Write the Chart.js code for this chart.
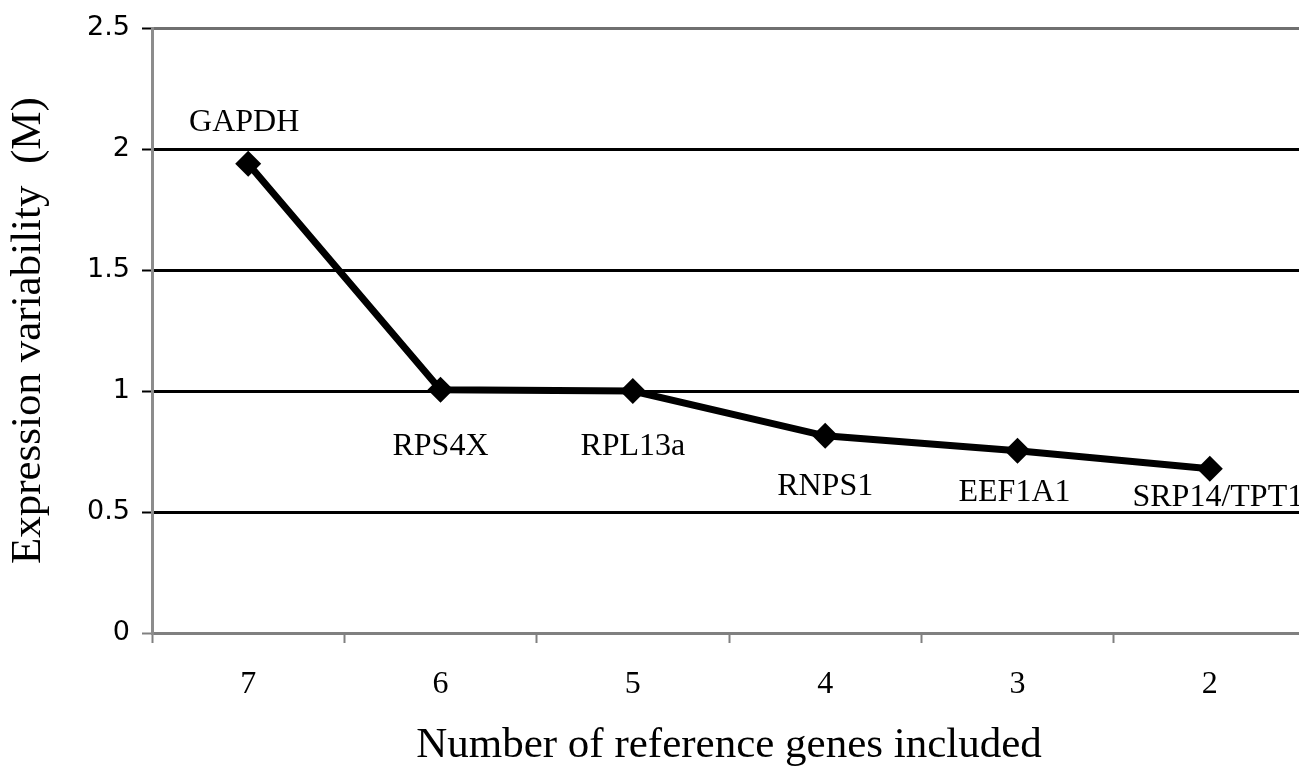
<!DOCTYPE html>
<html>
<head>
<meta charset="utf-8">
<title>Expression variability</title>
<script src="https://cdn.jsdelivr.net/npm/chart.js@4.4.1/dist/chart.umd.min.js"></script>
<style>
    html, body { margin: 0; padding: 0; background: #fff; overflow: hidden; }
    #wrap { width: 1319px; height: 768px; }
</style>
</head>
<body>
<div id="wrap"><canvas id="mChart" width="1319" height="768"></canvas></div>
<script>
// chart data
const geneCounts = ['7', '6', '5', '4', '3', '2'];
const mValues = [1.94, 1.005, 1.0, 0.815, 0.753, 0.679];
const geneNames = ['GAPDH', 'RPS4X', 'RPL13a', 'RNPS1', 'EEF1A1', 'SRP14/TPT1'];
const yTicks = [0, 0.5, 1, 1.5, 2, 2.5];

// where each gene label sits relative to its point (px)
const labelOffsets = [[-4, -41], [0, 57], [0, 56], [0, 51], [-3, 42], [8, 29]];

const pointLabels = {
    id: 'pointLabels',
    afterDatasetsDraw(chart) {
        const ctx = chart.ctx;
        const meta = chart.getDatasetMeta(0);
        ctx.save();
        ctx.font = '32px "Liberation Serif", "Times New Roman", serif';
        ctx.fillStyle = '#000';
        ctx.textAlign = 'center';
        ctx.textBaseline = 'middle';
        meta.data.forEach((pt, i) => {
            const off = labelOffsets[i];
            ctx.fillText(geneNames[i], pt.x + off[0], pt.y + off[1]);
        });
        ctx.restore();
    }
};

document.addEventListener('DOMContentLoaded', function () {
    const ctx = document.getElementById('mChart');

    new Chart(ctx, {
        type: 'line',
        data: {
            labels: geneCounts,
            datasets: [{
                data: mValues,
                borderColor: '#000',
                borderWidth: 7,
                backgroundColor: '#000',
                pointStyle: 'rectRot',
                pointRadius: 13,
                pointBorderWidth: 0,
                pointBackgroundColor: '#000',
                tension: 0
            }]
        },
        options: {
            responsive: false,
            animation: false,
            layout: { padding: { top: 23, right: 5, bottom: 0, left: 0 } },
            plugins: {
                legend: { display: false },
                tooltip: { enabled: false }
            },
            scales: {
                x: {
                    offset: true,
                    afterFit: s => { s.height = 135; },
                    grid: {
                        offset: true,
                        drawOnChartArea: false,
                        drawTicks: true,
                        tickLength: 10,
                        tickColor: '#808080',
                        tickWidth: 2
                    },
                    border: { color: '#808080', width: 3 },
                    ticks: {
                        color: '#000',
                        padding: 22,
                        font: { family: '"Liberation Serif", "Times New Roman", serif', size: 32 }
                    },
                    title: {
                        display: true,
                        text: 'Number of reference genes included',
                        color: '#000',
                        padding: { top: 0, bottom: -4 },
                        font: { family: '"Liberation Serif", "Times New Roman", serif', size: 43 }
                    }
                },
                y: {
                    min: 0,
                    max: 2.5,
                    afterFit: s => { s.width = 152; },
                    afterBuildTicks: s => { s.ticks = yTicks.map(v => ({ value: v })); },
                    grid: {
                        color: c => (c.tick.value === 0 ? '#808080' : (c.tick.value === 2.5 ? '#707070' : '#000')),
                        lineWidth: 3,
                        tickLength: 10,
                        tickColor: c => (c.tick.value === 0 ? '#808080' : '#000'),
                        tickWidth: 2
                    },
                    border: { color: '#8c8c8c', width: 3 },
                    ticks: {
                        color: '#000',
                        padding: 12,
                        callback: v => String(v),
                        font: { family: '"DejaVu Sans", Verdana, sans-serif', size: 27 }
                    },
                    title: {
                        display: true,
                        text: 'Expression variability  (M)',
                        color: '#000',
                        padding: { top: 3, bottom: 0 },
                        font: { family: '"Liberation Serif", "Times New Roman", serif', size: 43 }
                    }
                }
            }
        },
        plugins: [pointLabels]
    });
});
</script>
</body>
</html>
